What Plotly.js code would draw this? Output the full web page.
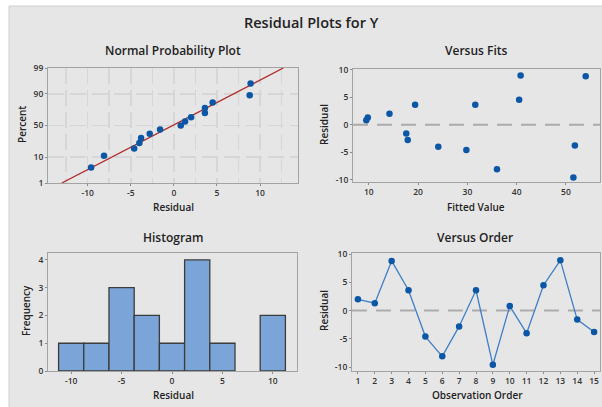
<!DOCTYPE html>
<html>
<head>
<meta charset="utf-8">
<script src="https://cdn.plot.ly/plotly-3.0.1.min.js"></script>
<style>html,body{margin:0;padding:0;background:#fff;}#chart{width:602px;height:407px;}</style>
</head>
<body>
<div id="chart"></div>
<script>
// ---- data ----
const observationOrder = [1,2,3,4,5,6,7,8,9,10,11,12,13,14,15];
const residuals = [2.0, 1.3, 8.8, 3.6, -4.6, -8.1, -2.8, 3.6, -9.6, 0.8, -4.0, 4.5, 8.9, -1.6, -3.8];
const fittedValues = [14.2, 9.8, 54.0, 19.4, 29.8, 36.0, 17.9, 31.6, 51.5, 9.5, 24.1, 40.5, 40.8, 17.6, 51.8];
// normal probability plot (sorted residuals and their plotted percent)
const probResiduals = [-9.6, -8.1, -4.6, -4.0, -3.8, -2.8, -1.6, 0.8, 1.3, 2.0, 3.6, 3.6, 4.5, 8.8, 8.9];
const probPercent = [4.5, 11.0, 17.5, 24.0, 30.5, 37.0, 43.5, 50.0, 56.5, 63.0, 69.5, 76.0, 82.5, 89.0, 95.5];
const fitLineResidual = [-13.0, 12.7];
const fitLinePercent = [1, 99];
const percentTicks = [1, 10, 50, 90, 99];
const residualTicks = [-10, -5, 0, 5, 10];
const fittedTicks = [10, 20, 30, 40, 50];
const freqTicks = [0, 1, 2, 3, 4];

// inverse standard normal CDF (axis transform for the probability scale)
function invNorm(p) {
  const a=[-3.969683028665376e+01,2.209460984245205e+02,-2.759285104469687e+02,1.383577518672690e+02,-3.066479806614716e+01,2.506628277459239e+00];
  const b=[-5.447609879822406e+01,1.615858368580409e+02,-1.556989798598866e+02,6.680131188771972e+01,-1.328068155288572e+01];
  const c=[-7.784894002430293e-03,-3.223964580411365e-01,-2.400758277161838e+00,-2.549732539343734e+00,4.374664141464968e+00,2.938163982698783e+00];
  const d=[7.784695709041462e-03,3.224671290700398e-01,2.445134137142996e+00,3.754408661907416e+00];
  const pl=0.02425, ph=1-pl; let q,r;
  if (p<pl){q=Math.sqrt(-2*Math.log(p));return (((((c[0]*q+c[1])*q+c[2])*q+c[3])*q+c[4])*q+c[5])/((((d[0]*q+d[1])*q+d[2])*q+d[3])*q+1);}
  if (p<=ph){q=p-0.5;r=q*q;return (((((a[0]*r+a[1])*r+a[2])*r+a[3])*r+a[4])*r+a[5])*q/(((((b[0]*r+b[1])*r+b[2])*r+b[3])*r+b[4])*r+1);}
  q=Math.sqrt(-2*Math.log(1-p));return -(((((c[0]*q+c[1])*q+c[2])*q+c[3])*q+c[4])*q+c[5])/((((d[0]*q+d[1])*q+d[2])*q+d[3])*q+1);
}
const z = v => invNorm(v/100);
const lbl = arr => arr.map(v => String(v));  // plain hyphen minus, as in the reference

const W=602, H=407;
const px = x => x/W, py = y => 1 - y/H;

const markerBlue = '#0b56a5';
const FONT = 'Open Sans, Noto Sans, sans-serif';
const textCol = '#222222';
const frameCol = '#a3a3a3';

const traces = [
  {type:'scatter', mode:'lines', x:fitLineResidual, y:fitLinePercent.map(z), xaxis:'x', yaxis:'y',
   line:{color:'#b22a2a', width:1.3}, hoverinfo:'skip'},
  {type:'scatter', mode:'markers', x:probResiduals, y:probPercent.map(z), xaxis:'x', yaxis:'y',
   marker:{color:markerBlue, size:6.5, symbol:'circle'}},
  {type:'scatter', mode:'markers', x:fittedValues, y:residuals, xaxis:'x2', yaxis:'y2',
   marker:{color:markerBlue, size:6.5, symbol:'circle'}},
  {type:'histogram', x:residuals, xaxis:'x3', yaxis:'y3',
   xbins:{start:-11.25, end:11.25, size:2.5}, autobinx:false,
   marker:{color:'#7ba5d9', line:{color:'#3c3c3c', width:1.3}}},
  {type:'scatter', mode:'lines+markers', x:observationOrder, y:residuals, xaxis:'x4', yaxis:'y4',
   line:{color:'#3f7fc7', width:1.3}, marker:{color:markerBlue, size:6.5, symbol:'circle'}}
];

const axBase = {
  showline:true, mirror:true, linecolor:frameCol, linewidth:1,
  ticks:'outside', ticklen:2, tickcolor:'#8a8a8a', tickwidth:1,
  showgrid:false, zeroline:false,
  tickfont:{family:FONT, size:8.5, color:'#333', weight:600}
};

const gridCol = '#d6d6d6';

const layout = {
  width:W, height:H, margin:{l:0,r:0,t:0,b:0},
  paper_bgcolor:'#ffffff', plot_bgcolor:'#ffffff',
  showlegend:false,
  bargap:0,
  xaxis: Object.assign({}, axBase, {domain:[px(48),px(298)], range:[-14.6,14.4], anchor:'y',
     tickvals:residualTicks, ticktext:lbl(residualTicks), showgrid:true, gridcolor:gridCol, gridwidth:1.5, griddash:'16px,6px',
     minor:{dtick:2.5, tick0:0, showgrid:true, gridcolor:gridCol, gridwidth:1.5, griddash:'16px,6px', ticks:''}}),
  yaxis: Object.assign({}, axBase, {domain:[py(183),py(68)], range:[z(1),z(99)], anchor:'x',
     tickvals:percentTicks.map(z), ticktext:lbl(percentTicks),
     showgrid:true, gridcolor:gridCol, gridwidth:1.5, griddash:'16px,6px'}),
  xaxis2: Object.assign({}, axBase, {domain:[px(353),px(600)], range:[6.8,56.9], anchor:'y2', tickvals:fittedTicks, ticktext:lbl(fittedTicks)}),
  yaxis2: Object.assign({}, axBase, {domain:[py(182),py(69)], range:[-10.4,10.1], anchor:'x2', tickvals:residualTicks, ticktext:lbl(residualTicks)}),
  xaxis3: Object.assign({}, axBase, {domain:[px(48),px(297)], range:[-12.3,12.4], anchor:'y3', tickvals:residualTicks, ticktext:lbl(residualTicks)}),
  yaxis3: Object.assign({}, axBase, {domain:[py(371),py(253)], range:[0,4.25], anchor:'x3', tickvals:freqTicks, ticktext:lbl(freqTicks)}),
  xaxis4: Object.assign({}, axBase, {domain:[px(352),px(600)], range:[0.65,15.35], anchor:'y4', tickvals:observationOrder, ticktext:lbl(observationOrder)}),
  yaxis4: Object.assign({}, axBase, {domain:[py(371),py(253)], range:[-10.7,10.2], anchor:'x4', tickvals:residualTicks, ticktext:lbl(residualTicks)}),
  shapes: [
    {type:'rect', xref:'paper', yref:'paper', x0:px(9), x1:1.01, y0:-0.01, y1:py(6),
     fillcolor:'#e6e6e6', line:{color:'#cfcfcf', width:1}, layer:'below'},
    {type:'line', xref:'x2 domain', yref:'y2', x0:0, x1:1, y0:0, y1:0,
     line:{color:'#ababab', width:2, dash:'15px,9px'}, layer:'below'},
    {type:'line', xref:'x4 domain', yref:'y4', x0:0, x1:1, y0:0, y1:0,
     line:{color:'#ababab', width:2, dash:'15px,9px'}, layer:'below'}
  ],
  annotations: []
};

function ann(text, x, y, size, rot, weight) {
  layout.annotations.push({text:text, xref:'paper', yref:'paper', x:px(x), y:py(y),
    xanchor:'center', yanchor:'middle', showarrow:false, textangle:rot||0,
    font:{family:FONT, size:size, color:textCol, weight:weight||600}});
}
ann('Residual Plots for Y', 311, 22, 14.5, 0, 600);
ann('Normal Probability Plot', 173, 50, 12, 0, 600);
ann('Versus Fits', 476, 50, 12, 0, 600);
ann('Histogram', 173, 237, 12, 0, 600);
ann('Versus Order', 475, 237, 12, 0, 600);
ann('Residual', 173, 207, 10, 0, 600);
ann('Fitted Value', 476, 207, 10, 0, 600);
ann('Residual', 173, 395, 10, 0, 600);
ann('Observation Order', 477, 395, 10, 0, 600);
ann('Percent', 22, 125, 10, -90, 600);
ann('Residual', 324, 125, 10, -90, 600);
ann('Frequency', 26, 311, 10, -90, 600);
ann('Residual', 324, 311, 10, -90, 600);

Plotly.newPlot('chart', traces, layout, {staticPlot:true, displayModeBar:false});
</script>
</body>
</html>
